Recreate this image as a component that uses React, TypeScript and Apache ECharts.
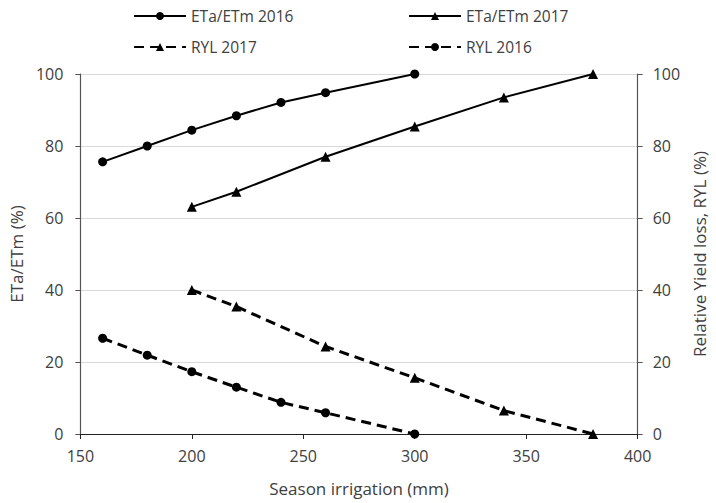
import React, { useEffect, useRef } from "react";
import * as echarts from "echarts";

const xTickMin = 150;
const xTickMax = 400;
const yTicks = [0, 20, 40, 60, 80, 100];

const x2016 = [160, 180, 200, 220, 240, 260, 300];
const x2017 = [200, 220, 260, 300, 340, 380];

const etaEtm2016 = [75.6, 80.0, 84.4, 88.4, 92.1, 94.8, 100];
const etaEtm2017 = [63.1, 67.3, 77.0, 85.4, 93.5, 100];
const ryl2017 = [40.0, 35.4, 24.3, 15.6, 6.5, 0];
const ryl2016 = [26.6, 21.9, 17.3, 13.0, 8.8, 5.9, 0];

const seriesNames = ["ETa/ETm 2016", "ETa/ETm 2017", "RYL 2017", "RYL 2016"];

const pairs = (xs: number[], ys: number[]) => xs.map((x, i) => [x, ys[i]]);

const FONT = "'Open Sans', 'Liberation Sans', sans-serif";
const TXT = "#404040";

export default function App() {
  const ref = useRef<HTMLDivElement>(null);
  useEffect(() => {
    if (!ref.current) return;
    const chart = echarts.init(ref.current, undefined, { renderer: "svg" });
    const legendCommon = {
      orient: "horizontal" as const,
      itemWidth: 52,
      itemHeight: 10,
      textStyle: { color: TXT, fontSize: 15.5, fontFamily: FONT },
      padding: 0,
    };
    const solid = { color: "#000", width: 2, type: "solid" as const };
    const dashed = { color: "#000", width: 3, type: [10, 6] as any };
    chart.setOption({
      animation: false,
      backgroundColor: "#fff",
      textStyle: { fontFamily: FONT },
      legend: [
        { ...legendCommon, data: [seriesNames[0]], left: 133, top: 8 },
        { ...legendCommon, data: [seriesNames[1]], left: 408, top: 8 },
        { ...legendCommon, data: [seriesNames[2]], left: 133, top: 39 },
        { ...legendCommon, data: [seriesNames[3]], left: 408, top: 39 },
      ],
      grid: { left: 80, right: 69, top: 74, bottom: 69, containLabel: false },
      xAxis: {
        type: "value",
        min: xTickMin,
        max: xTickMax,
        interval: 50,
        name: "Season irrigation (mm)",
        nameLocation: "middle",
        nameGap: 46,
        nameTextStyle: { color: TXT, fontSize: 17, fontFamily: FONT },
        axisLine: { show: true, lineStyle: { color: "#222", width: 1.2 } },
        axisTick: { show: true, length: 5, lineStyle: { color: "#222" } },
        axisLabel: { color: TXT, fontSize: 16, fontFamily: FONT, margin: 14 },
        splitLine: { show: false },
      },
      yAxis: [
        {
          type: "value",
          min: yTicks[0],
          max: yTicks[yTicks.length - 1],
          interval: 20,
          position: "left",
          name: "ETa/ETm (%)",
          nameLocation: "middle",
          nameRotate: 90,
          nameGap: 53,
          nameTextStyle: { color: TXT, fontSize: 17, fontFamily: FONT },
          axisLine: { show: true, lineStyle: { color: "#555", width: 1.2 } },
          axisTick: { show: true, length: 5, lineStyle: { color: "#555" } },
          axisLabel: { color: TXT, fontSize: 16, fontFamily: FONT, margin: 17 },
          splitLine: { show: true, lineStyle: { color: "#d9d9d9", width: 1 } },
        },
        {
          type: "value",
          min: yTicks[0],
          max: yTicks[yTicks.length - 1],
          interval: 20,
          position: "right",
          name: "Relative Yield loss, RYL (%)",
          nameLocation: "middle",
          nameRotate: 90,
          nameGap: 48,
          nameTextStyle: { color: TXT, fontSize: 17, fontFamily: FONT },
          axisLine: { show: true, lineStyle: { color: "#555", width: 1.2 } },
          axisTick: { show: true, length: 5, lineStyle: { color: "#555" } },
          axisLabel: { color: TXT, fontSize: 16, fontFamily: FONT, margin: 15 },
          splitLine: { show: false },
        },
      ],
      series: [
        {
          name: seriesNames[0],
          type: "line",
          data: pairs(x2016, etaEtm2016),
          symbol: "circle",
          symbolSize: 9,
          itemStyle: { color: "#000" },
          lineStyle: solid,
          yAxisIndex: 0,
        },
        {
          name: seriesNames[1],
          type: "line",
          data: pairs(x2017, etaEtm2017),
          symbol: "triangle",
          symbolSize: 10,
          itemStyle: { color: "#000" },
          lineStyle: solid,
          yAxisIndex: 0,
        },
        {
          name: seriesNames[2],
          type: "line",
          data: pairs(x2017, ryl2017),
          symbol: "triangle",
          symbolSize: 10,
          itemStyle: { color: "#000" },
          lineStyle: dashed,
          yAxisIndex: 1,
        },
        {
          name: seriesNames[3],
          type: "line",
          data: pairs(x2016, ryl2016),
          symbol: "circle",
          symbolSize: 9,
          itemStyle: { color: "#000" },
          lineStyle: dashed,
          yAxisIndex: 1,
        },
      ],
    });
    return () => chart.dispose();
  }, []);
  return <div ref={ref} style={{ width: 716, height: 503, position: "fixed", left: 0, top: 0 }} />;
}
